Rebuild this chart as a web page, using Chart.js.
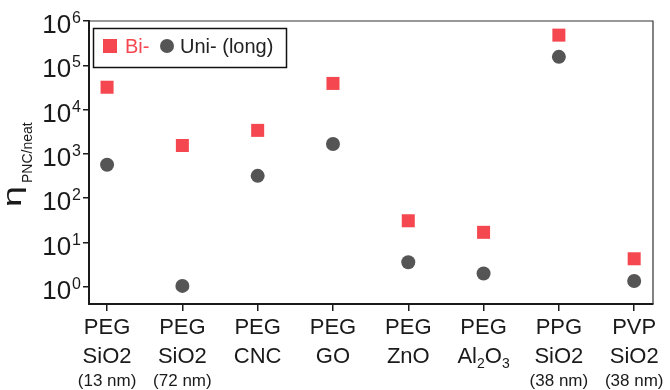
<!DOCTYPE html>
<html>
<head>
<meta charset="utf-8">
<script src="https://cdn.jsdelivr.net/npm/chart.js@4.4.0/dist/chart.umd.min.js"></script>
<style>
  html, body { margin: 0; padding: 0; background: #fff; }
</style>
</head>
<body>
<canvas id="viscChart" width="670" height="390"></canvas>
<script>
// polymer / filler pairs, three text lines per column
const polymers = ["PEG", "PEG", "PEG", "PEG", "PEG", "PEG", "PPG", "PVP"];
const fillers = ["SiO2", "SiO2", "CNC", "GO", "ZnO", "Al_2O_3", "SiO2", "SiO2"];
const sizes = ["(13 nm)", "(72 nm)", "", "", "", "", "(38 nm)", "(38 nm)"];

// viscosity ratio, bidisperse vs. long unimodal
const biValues = [3.2e4, 1.55e3, 3.4e3, 3.9e4, 31, 17, 4.8e5, 4.3];
const uniValues = [570, 1.05, 320, 1670, 3.6, 2.0, 1.55e5, 1.35];

// decades shown on the y axis
const yExponents = [0, 1, 2, 3, 4, 5, 6];

const RED = "#F5474F";
const GREY = "#555555";
const INK = "#1a1a1a";
const FONT = "'Liberation Sans', Arial, sans-serif";

function toPoints(values) {
  return values.map((v, i) => ({ x: i, y: v }));
}

// draws text where "_x" means a subscript character
function drawRich(ctx, str, cx, baseline, size) {
  const parts = [];
  for (let i = 0; i < str.length; i++) {
    if (str[i] === "_") { parts.push({ t: str[i + 1], sub: true }); i++; }
    else parts.push({ t: str[i], sub: false });
  }
  const fontFor = p => (p.sub ? Math.round(size * 0.64) : size) + "px " + FONT;
  let total = 0;
  parts.forEach(p => { ctx.font = fontFor(p); p.w = ctx.measureText(p.t).width; total += p.w; });
  let x = cx - total / 2;
  ctx.textAlign = "left";
  parts.forEach(p => {
    ctx.font = fontFor(p);
    ctx.fillText(p.t, x, baseline + (p.sub ? 5 : 0));
    x += p.w;
  });
}

const decorations = {
  id: "decorations",
  afterDraw(chart) {
    const ctx = chart.ctx;
    const area = chart.chartArea;
    const xs = chart.scales.x;
    const ys = chart.scales.y;
    ctx.save();

    // top and right frame
    ctx.strokeStyle = "#333";
    ctx.lineWidth = 1.2;
    ctx.beginPath();
    ctx.moveTo(area.left, area.top);
    ctx.lineTo(area.right, area.top);
    ctx.lineTo(area.right, area.bottom);
    ctx.stroke();

    ctx.fillStyle = INK;
    ctx.textBaseline = "alphabetic";

    // y tick labels as powers of ten
    yExponents.forEach(e => {
      const y = ys.getPixelForValue(Math.pow(10, e));
      ctx.font = "16px " + FONT;
      ctx.textAlign = "right";
      ctx.fillText(String(e), 81, y + 2);
      const supW = ctx.measureText(String(e)).width;
      ctx.font = "26px " + FONT;
      ctx.fillText("10", 81 - supW - 1, y + 12);
    });

    // x category labels
    polymers.forEach((p, i) => {
      const x = xs.getPixelForValue(i);
      ctx.textAlign = "center";
      ctx.font = "22px " + FONT;
      ctx.fillText(p, x, 334);
      drawRich(ctx, fillers[i], x, 363, 22);
      if (sizes[i]) {
        ctx.textAlign = "center";
        ctx.font = "17px " + FONT;
        ctx.fillText(sizes[i], x, 386);
      }
    });

    // y axis title
    ctx.save();
    ctx.translate(21, 207);
    ctx.rotate(-Math.PI / 2);
    ctx.textAlign = "left";
    ctx.save();
    ctx.scale(1.45, 1);
    ctx.font = "26px " + FONT;
    ctx.fillText("\u03B7", 0, 0);
    const etaW = ctx.measureText("\u03B7").width * 1.45;
    ctx.restore();
    ctx.font = "14px " + FONT;
    ctx.fillText("PNC/neat", etaW + 3, 11);
    ctx.restore();

    // legend box inside the plot
    const ds = chart.data.datasets;
    ctx.strokeStyle = "#111";
    ctx.lineWidth = 1.5;
    ctx.strokeRect(93.5, 28.5, 193, 39);
    ctx.font = "20px " + FONT;
    ctx.textAlign = "left";
    ctx.fillStyle = ds[0].backgroundColor;
    ctx.fillRect(103, 39, 14, 14);
    ctx.fillText(ds[0].label, 125, 53);
    ctx.fillStyle = ds[1].backgroundColor;
    ctx.beginPath();
    ctx.arc(167, 46, 7, 0, Math.PI * 2);
    ctx.fill();
    ctx.fillStyle = "#222";
    ctx.fillText(ds[1].label, 180, 53);

    ctx.restore();
  }
};

new Chart(document.getElementById("viscChart"), {
  type: "scatter",
  data: {
    datasets: [
      {
        label: "Bi-",
        data: toPoints(biValues),
        pointStyle: "rect",
        pointRadius: 9.2,
        backgroundColor: RED,
        borderWidth: 0
      },
      {
        label: "Uni- (long)",
        data: toPoints(uniValues),
        pointStyle: "circle",
        pointRadius: 7,
        backgroundColor: GREY,
        borderWidth: 0
      }
    ]
  },
  options: {
    responsive: false,
    animation: false,
    layout: { padding: { left: 0, top: 21, right: 17, bottom: 0 } },
    plugins: {
      legend: { display: false },
      tooltip: { enabled: false }
    },
    scales: {
      x: {
        type: "linear",
        min: -0.24,
        max: 7.25,
        afterBuildTicks: scale => {
          scale.ticks = polymers.map((_, i) => ({ value: i }));
        },
        afterFit: scale => { scale.height = 86; },
        ticks: { display: false },
        grid: { drawOnChartArea: false, drawTicks: true, tickLength: 7, color: INK, lineWidth: 1.5 },
        border: { display: true, color: INK, width: 2 }
      },
      y: {
        type: "logarithmic",
        min: 0.41,
        max: 1e6,
        afterBuildTicks: scale => {
          scale.ticks = yExponents.map(e => ({ value: Math.pow(10, e), major: true }));
        },
        afterFit: scale => { scale.width = 89; },
        ticks: { display: false },
        grid: { drawOnChartArea: false, drawTicks: true, tickLength: 6, color: INK, lineWidth: 1.5 },
        border: { display: true, color: INK, width: 2 }
      }
    }
  },
  plugins: [decorations]
});
</script>
</body>
</html>
